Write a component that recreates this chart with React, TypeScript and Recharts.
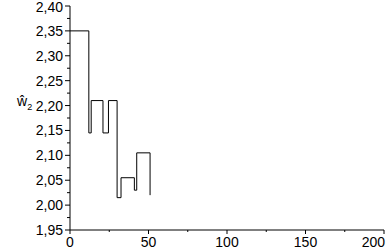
import React from 'react';
import { LineChart, Line, XAxis, YAxis } from 'recharts';

const xValues = [0, 12, 13.5, 21, 24.5, 30, 32.5, 41, 42.5, 51];
const wValues = [2.35, 2.145, 2.21, 2.145, 2.21, 2.015, 2.055, 2.03, 2.105, 2.02];

const xMajorTicks = [0, 50, 100, 150, 200];
const xMinorTicks = [25, 75, 125, 175];
const yMajorTicks = [1.95, 2.0, 2.05, 2.1, 2.15, 2.2, 2.25, 2.3, 2.35, 2.4];
const yMinorTicks = [1.975, 2.025, 2.075, 2.125, 2.175, 2.225, 2.275, 2.325, 2.375];

const data = xValues.map((x, i) => ({ x, w: wValues[i] }));

const FONT = '"Liberation Sans", Arial, sans-serif';

const isMajorX = (v: number) => xMajorTicks.some((t) => Math.abs(t - v) < 1e-6);
const isMajorY = (v: number) => yMajorTicks.some((t) => Math.abs(t - v) < 1e-6);
const xMax = xMajorTicks[xMajorTicks.length - 1];
const yMax = yMajorTicks[yMajorTicks.length - 1];

const XTick = (props: any) => {
  const { x, y, payload } = props;
  const major = isMajorX(payload.value);
  const last = payload.value === xMax;
  return (
    <g>
      <line x1={x} x2={x} y1={y} y2={y + (major ? 4 : 2)} stroke="#000" strokeWidth={1} />
      {major && (
        <text
          x={last ? x + 1 : x}
          y={y + 7}
          dy="0.71em"
          textAnchor={last ? 'end' : 'middle'}
          fontFamily={FONT}
          fontSize={14}
          fill="#000"
        >
          {String(payload.value)}
        </text>
      )}
    </g>
  );
};

const YTick = (props: any) => {
  const { x, y, payload } = props;
  const major = isMajorY(payload.value);
  const top = Math.abs(payload.value - yMax) < 1e-6;
  return (
    <g>
      <line x1={x - (major ? 5 : 3)} x2={x} y1={y} y2={y} stroke="#000" strokeWidth={1} />
      {major && (
        <text
          x={x - 7}
          y={top ? y + 1.5 : y}
          dy="0.355em"
          textAnchor="end"
          fontFamily={FONT}
          fontSize={14}
          fill="#000"
        >
          {payload.value.toFixed(2).replace('.', ',')}
        </text>
      )}
    </g>
  );
};

const YTitle = () => (
  <text x={17} y={106} fontFamily={FONT} fontSize={14} fill="#000">
    <tspan>ŵ</tspan>
    <tspan dy={4} fontSize={9}>2</tspan>
  </text>
);

export default function App() {
  return (
    <div style={{ position: 'absolute', left: 0, top: 0, width: 386, height: 249, background: '#fff' }}>
      <LineChart width={386} height={249} data={data} margin={{ top: 6, right: 2, left: 0, bottom: 0 }}>
        <XAxis
          dataKey="x"
          type="number"
          domain={[0, 200]}
          ticks={[...xMajorTicks, ...xMinorTicks].sort((a, b) => a - b)}
          interval={0}
          height={19}
          tickSize={0}
          tickMargin={0}
          tickLine={false}
          axisLine={{ stroke: '#000', strokeWidth: 1 }}
          tick={<XTick />}
          allowDataOverflow
        />
        <XAxis
          xAxisId="top"
          orientation="top"
          type="number"
          domain={[0, 200]}
          height={0}
          tick={false}
          tickLine={false}
          axisLine={{ stroke: '#000', strokeWidth: 1 }}
          allowDataOverflow
        />
        <YAxis
          type="number"
          domain={[1.95, 2.4]}
          ticks={[...yMajorTicks, ...yMinorTicks].sort((a, b) => a - b)}
          interval={0}
          width={70}
          tickSize={0}
          tickMargin={0}
          tickLine={false}
          axisLine={{ stroke: '#000', strokeWidth: 1 }}
          tick={<YTick />}
          label={{ content: <YTitle /> } as any}
          allowDataOverflow
        />
        <YAxis
          yAxisId="right"
          orientation="right"
          type="number"
          domain={[1.95, 2.4]}
          width={0}
          tick={false}
          tickLine={false}
          axisLine={{ stroke: '#000', strokeWidth: 1 }}
          allowDataOverflow
        />
        <Line
          type="stepAfter"
          dataKey="w"
          stroke="#000"
          strokeWidth={1}
          dot={false}
          isAnimationActive={false}
        />
      </LineChart>
    </div>
  );
}
